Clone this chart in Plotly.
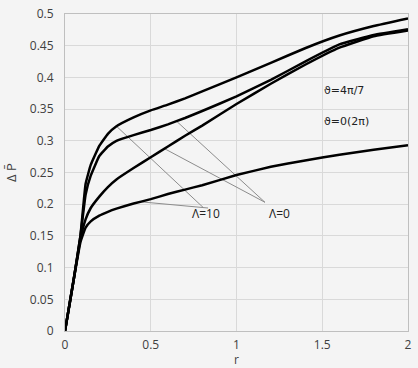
import numpy as np
import plotly.graph_objects as go

# data
r = [0, 0.05, 0.09, 0.12, 0.15, 0.2, 0.25, 0.3, 0.4, 0.5, 0.6, 0.7, 0.8, 1.0, 1.2, 1.4, 1.6, 1.8, 2.0]
p_top = [0, 0.08, 0.15, 0.232, 0.262, 0.292, 0.311, 0.323, 0.337, 0.348, 0.357, 0.367, 0.378, 0.400, 0.423, 0.446, 0.466, 0.481, 0.493]
p_second = [0, 0.08, 0.15, 0.215, 0.245, 0.276, 0.291, 0.300, 0.309, 0.317, 0.326, 0.336, 0.347, 0.370, 0.396, 0.425, 0.452, 0.467, 0.476]
p_third = [0, 0.08, 0.145, 0.176, 0.194, 0.212, 0.227, 0.239, 0.257, 0.274, 0.291, 0.308, 0.324, 0.358, 0.390, 0.420, 0.447, 0.465, 0.474]
p_bottom = [0, 0.08, 0.14, 0.163, 0.173, 0.182, 0.188, 0.193, 0.201, 0.208, 0.216, 0.223, 0.230, 0.246, 0.259, 0.269, 0.278, 0.286, 0.293]

series = [p_top, p_second, p_third, p_bottom]

x_ticks = [0, 0.5, 1, 1.5, 2]
x_tick_labels = ["0", "0.5", "1", "1.5", "2"]
y_ticks = [0, 0.05, 0.1, 0.15, 0.2, 0.25, 0.3, 0.35, 0.4, 0.45, 0.5]
y_tick_labels = ["0", "0.05", "0.1", "0.15", "0.2", "0.25", "0.3", "0.35", "0.4", "0.45", "0.5"]
x_title = "r"
y_title = "Δ P\u0304"

# annotation leader lines: (curve index, anchor r) -> label point
lam10_anchors = [(0, 0.30), (3, 0.44)]
lam10_ends = [(0.805, 0.195), (0.834, 0.194)]
lam10_label = (0.82, 0.186)
lam0_anchors = [(1, 0.65), (2, 0.58)]
lam0_end = (1.166, 0.203)
lam0_label = (1.25, 0.186)
theta_labels = [("ϑ=4π/7", 1.50, 0.380), ("ϑ=0(2π)", 1.50, 0.331)]

FONT = "Open Sans, DejaVu Sans, sans-serif"
TXT = "#404040"
GRID = "#d9d9d9"
BG = "#f4f4f4"

fig = go.Figure()

# leader lines (drawn first, under curves)
for (ci, ax), (ex, ey) in zip(lam10_anchors, lam10_ends):
    ay = float(np.interp(ax, r, series[ci]))
    fig.add_trace(go.Scatter(x=[ax, ex], y=[ay, ey], mode="lines",
                             line=dict(color="#8c8c8c", width=1), hoverinfo="skip", showlegend=False))
for (ci, ax) in lam0_anchors:
    ay = float(np.interp(ax, r, series[ci]))
    fig.add_trace(go.Scatter(x=[ax, lam0_end[0]], y=[ay, lam0_end[1]], mode="lines",
                             line=dict(color="#8c8c8c", width=1), hoverinfo="skip", showlegend=False))

for s in series:
    fig.add_trace(go.Scatter(x=r, y=s, mode="lines",
                             line=dict(color="black", width=2.5, shape="spline", smoothing=0.3),
                             showlegend=False))

fig.add_annotation(x=lam10_label[0], y=lam10_label[1], text="Λ=10", showarrow=False,
                   font=dict(family=FONT, size=12, color="#222"))
fig.add_annotation(x=lam0_label[0], y=lam0_label[1], text="Λ=0", showarrow=False,
                   font=dict(family=FONT, size=12, color="#222"))
for t, tx, ty in theta_labels:
    fig.add_annotation(x=tx, y=ty, text=t, showarrow=False, xanchor="left",
                       font=dict(family="DejaVu Sans, sans-serif", size=11, color="#222"))

# x-axis title as an annotation so it can sit just below the tick labels
fig.add_annotation(xref="paper", yref="paper", x=0.5, y=0, yshift=-28, text=x_title,
                   showarrow=False, xanchor="center", yanchor="middle", borderpad=0,
                   font=dict(family=FONT, size=12, color=TXT))

fig.update_layout(
    width=418, height=368,
    margin=dict(l=65, r=10, t=14, b=37),
    paper_bgcolor=BG, plot_bgcolor=BG,
    font=dict(family=FONT, size=12, color=TXT),
    xaxis=dict(range=[0, 2], tickvals=x_ticks, ticktext=x_tick_labels,
               showgrid=True, gridcolor=GRID, gridwidth=1, zeroline=False,
               showline=True, linecolor="#bfbfbf", linewidth=1, mirror=True,
               ticks="", ticklabelstandoff=3, automargin=False),
    yaxis=dict(range=[0, 0.5], tickvals=y_ticks, ticktext=y_tick_labels,
               showgrid=True, gridcolor=GRID, gridwidth=1, zeroline=False,
               showline=True, linecolor="#bfbfbf", linewidth=1, mirror=True,
               ticks="", ticklabelstandoff=8, automargin=False,
               title=dict(text=y_title, standoff=10, font=dict(family=FONT, size=13, color=TXT))),
)

fig.write_html("out.html", config={"displayModeBar": False},
               post_script="document.body.style.margin='0';document.body.style.background='%s';" % BG)
